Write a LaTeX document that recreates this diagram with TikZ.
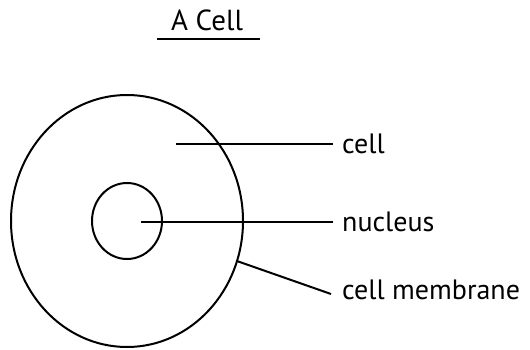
\documentclass[tikz,border=0pt]{standalone}
\usepackage{fontspec}
\setmainfont{PT Sans}
\usetikzlibrary{positioning}
\usetikzlibrary{shapes.geometric}

\tikzset{
    outline/.style={draw, line width=2pt, ellipse, inner sep=0pt},
    pointer/.style={line width=2pt},
    lbl/.style={inner sep=0pt, anchor=west, font=\fontsize{28}{32}\selectfont},
}

\begin{document}
\begin{tikzpicture}[x=1pt, y=-1pt]
    \useasboundingbox (0,0) rectangle (530,350);

    % title
    \node [font=\fontsize{29}{33}\selectfont, inner sep=0pt] (title) at (207,20) {A Cell};
    \coordinate (ulleft) at (157,39);
    \coordinate (ulright) at (260,39);
    \draw [line width=1.2pt] (ulleft) -- (ulright);

    % cell and nucleus
    \node [outline, minimum width=232, minimum height=252] (cellbody) at (127,221) {};
    \node [outline, minimum width=70, minimum height=76] (nucleus) at (127,221) {};

    % pointer ends
    \coordinate (cellstart) at (176,144);
    \coordinate (cellend) at (333,144);
    \coordinate (nucstart) at (141,222);
    \coordinate (nucend) at (333,222);
    \coordinate (membend) at (331,294);

    % labels
    \node [lbl, right=9pt of cellend] (celllbl) {cell};
    \node [lbl, right=9pt of nucend] (nuclbl) {nucleus};
    \node [lbl, right=11pt of membend, yshift=4pt] (memblbl) {cell membrane};

    \draw [pointer] (cellstart) -- (cellend);
    \draw [pointer] (nucstart) -- (nucend);
    \draw [pointer] (cellbody.-20) -- (membend);

\end{tikzpicture}
\end{document}
